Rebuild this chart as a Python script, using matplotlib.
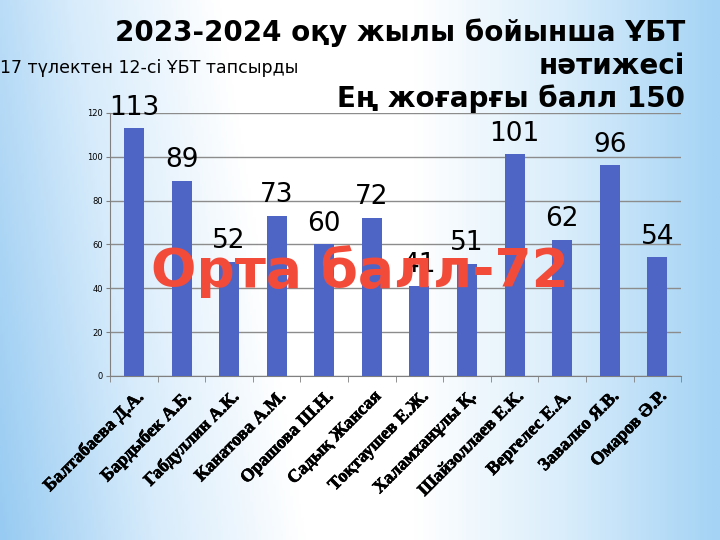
import numpy as np
import matplotlib.pyplot as plt
import matplotlib.patheffects as pe
from matplotlib.colors import LinearSegmentedColormap

# data
students = ["Балтабаева Д.А.", "Бардыбек А.Б.", "Габдуллин А.К.", "Канатова А.М.",
            "Орашова Ш.Н.", "Садық Жансая", "Тоқтаушев Е.Ж.", "Халамханұлы Қ.",
            "Шайзоллаев Е.К.", "Вергелес Е.А.", "Завалко Я.В.", "Омаров Ә.Р."]
scores = [113, 89, 52, 73, 60, 72, 41, 51, 101, 62, 96, 54]
yticks = [0, 20, 40, 60, 80, 100, 120]

title = "2023-2024 оқу жылы бойынша ҰБТ\nнәтижесі\nЕң жоғарғы балл 150"
subtitle = "17 түлектен 12-сі ҰБТ тапсырды"
average = "Орта балл-72"

fig = plt.figure(figsize=(7.2, 5.4), dpi=100)

# light blue slide background, whiter in the middle
bg = fig.add_axes([0, 0, 1, 1], zorder=0)
cmap = LinearSegmentedColormap.from_list(
    "slide", ["#98cbf2", "#d6ebfb", "#ffffff", "#ffffff", "#d9edfb", "#a4d3f5"])
xx = np.linspace(0, 1, 300)
yy = np.linspace(0, 1, 200)
X, Y = np.meshgrid(xx, yy)
grad = X - 0.12 * (Y - 0.5) * (X < 0.5)
bg.imshow(grad, cmap=cmap, aspect="auto", extent=[0, 1, 0, 1], origin="upper")
bg.axis("off")

ax = fig.add_axes([0.153, 0.304, 0.793, 0.487], zorder=1)
ax.patch.set_alpha(0)

x = np.arange(len(students))
ax.bar(x, scores, width=0.42, color="#4f65c6", zorder=3)

for xi, v in zip(x, scores):
    ax.text(xi, v + 3.5, str(v), ha="center", va="bottom", fontsize=19,
            color="black", zorder=4)

ax.set_ylim(0, 120)
ax.set_xlim(-0.5, len(students) - 0.5)
ax.set_yticks(yticks)
ax.tick_params(axis="y", labelsize=6, length=3, color="#808080", pad=2)
ax.yaxis.grid(True, color="#8c8c8c", linewidth=1)
ax.set_axisbelow(True)

# category labels, bold serif rotated
ax.set_xticks(x)
ax.set_xticklabels(students, rotation=45, ha="right", rotation_mode="anchor",
                   fontsize=13, fontweight="bold", family="Liberation Serif")
for lbl in ax.get_xticklabels():
    lbl.set_path_effects([pe.withStroke(linewidth=0.5, foreground="black")])
ax.tick_params(axis="x", length=0, pad=9)
ax.set_xticks(np.arange(-0.5, len(students)), minor=True)
ax.tick_params(axis="x", which="minor", length=4, color="#808080")

for side in ["top", "right"]:
    ax.spines[side].set_visible(False)
ax.spines["left"].set_color("#808080")
ax.spines["bottom"].set_color("#808080")

# big red average score across the bars
fig.text(0.5, 0.497, average, ha="center", va="center", fontsize=38.5,
         fontweight="bold", color="#f24b3a", zorder=6)

fig.text(0.952, 0.966, title, ha="right", va="top", fontsize=20,
         fontweight="bold", linespacing=1.22)
fig.text(0.0, 0.874, subtitle, ha="left", va="center", fontsize=12.5)

fig.savefig("out.png", dpi=100)
